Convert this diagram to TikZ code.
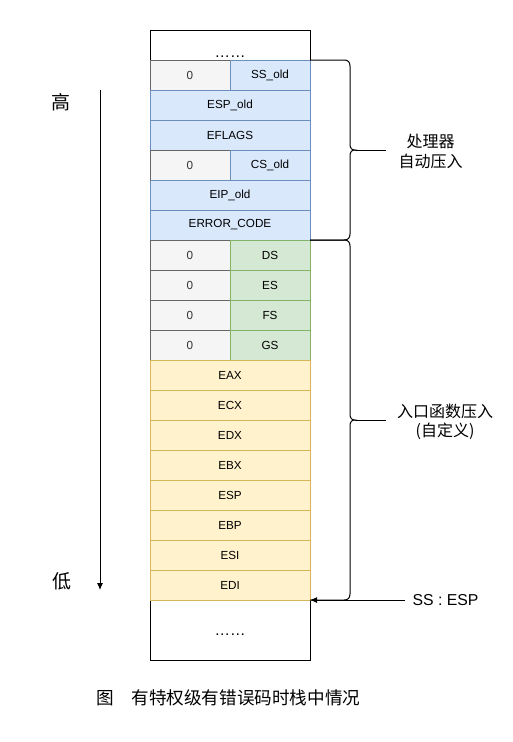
\documentclass[tikz,border=0pt]{standalone}
\usepackage{fontspec}
\setmainfont{Liberation Sans}
\newfontfamily\cjk{Noto Sans CJK SC}
\usetikzlibrary{arrows.meta}
\definecolor{grayF}{HTML}{F5F5F5}
\definecolor{grayD}{HTML}{666666}
\definecolor{grayT}{HTML}{333333}
\definecolor{blueF}{HTML}{DAE8FC}
\definecolor{blueD}{HTML}{6C8EBF}
\definecolor{greenF}{HTML}{D5E8D4}
\definecolor{greenD}{HTML}{82B366}
\definecolor{yelF}{HTML}{FFF2CC}
\definecolor{yelD}{HTML}{D6B656}
\begin{document}
\begin{tikzpicture}[x=1pt,y=-1pt,
  cell/.style={draw, line width=1pt, minimum height=30pt, inner sep=0pt, outer sep=0pt,
    font=\fontsize{11.7}{14}\selectfont},
  full/.style={cell, minimum width=160pt},
  half/.style={cell, minimum width=80pt},
  gc/.style={fill=grayF, draw=grayD, text=grayT},
  bc/.style={fill=blueF, draw=blueD},
  grc/.style={fill=greenF, draw=greenD},
  yc/.style={fill=yelF, draw=yelD},
  endbox/.style={draw=black, fill=white, line width=1pt, minimum width=160pt, inner sep=0pt,
    outer sep=0pt, font=\fontsize{15.5}{18}\selectfont},
  cjklab/.style={font=\cjk\fontsize{16}{19.5}\selectfont, align=center, inner sep=0pt},
  brace/.style={draw=black, line width=1pt},
  conn/.style={draw=black, line width=1pt, -{Latex[length=7pt,width=6pt]}}
]
\useasboundingbox (0,0) rectangle (512,742);

% top and bottom boxes
\node[endbox, minimum height=30pt, text height=25pt, text depth=0pt] (top) at (230,45) {……};
\node[endbox, minimum height=60pt, text height=10pt, text depth=0pt] (bot) at (230,630) {……};

% processor-pushed part
\node[half, gc] (z1) at (190,75) {0};
\node[half, bc] (ss) at (270,75) {SS\_old};
\node[full, bc] (esp0) at (230,105) {ESP\_old};
\node[full, bc] (efl) at (230,135) {EFLAGS};
\node[half, gc] (z2) at (190,165) {0};
\node[half, bc] (cs) at (270,165) {CS\_old};
\node[full, bc] (eip) at (230,195) {EIP\_old};
\node[full, bc] (err) at (230,225) {ERROR\_CODE};

% segment registers
\node[half, gc] (z3) at (190,255) {0};
\node[half, grc] (ds) at (270,255) {DS};
\node[half, gc] (z4) at (190,285) {0};
\node[half, grc] (es) at (270,285) {ES};
\node[half, gc] (z5) at (190,315) {0};
\node[half, grc] (fs) at (270,315) {FS};
\node[half, gc] (z6) at (190,345) {0};
\node[half, grc] (gs) at (270,345) {GS};

% general registers
\node[full, yc] (eax) at (230,375) {EAX};
\node[full, yc] (ecx) at (230,405) {ECX};
\node[full, yc] (edx) at (230,435) {EDX};
\node[full, yc] (ebx) at (230,465) {EBX};
\node[full, yc] (esp) at (230,495) {ESP};
\node[full, yc] (ebp) at (230,525) {EBP};
\node[full, yc] (esi) at (230,555) {ESI};
\node[full, yc] (edi) at (230,585) {EDI};

% braces
\path[brace] (310,60) -- (344,60) .. controls (348,60) and (350,62) .. (350,66)
  -- (350,144) .. controls (350,148) and (351.5,150) .. (355,150)
  .. controls (351.5,150) and (350,152) .. (350,156)
  -- (350,234) .. controls (350,238) and (348,240) .. (344,240) -- (310,240);
\coordinate (tip1) at (355,150);
\draw[line width=1pt] (tip1) -- ++(31,0);
\node[cjklab] (lab1) at (430.5,151.5) {处理器\\自动压入};

\path[brace] (310,240) -- (344,240) .. controls (348,240) and (350,242) .. (350,246)
  -- (350,414) .. controls (350,418) and (351.5,420) .. (355,420)
  .. controls (351.5,420) and (350,422) .. (350,426)
  -- (350,594) .. controls (350,598) and (348,600) .. (344,600) -- (310,600);
\coordinate (tip2) at (355,420);
\draw[line width=1pt] (tip2) -- ++(31,0);
\node[cjklab] (lab2) at (445,422) {入口函数压入\\(自定义)};

% SS:ESP pointer
\coordinate (sspt) at (405,600);
\node[font=\fontsize{15.8}{18}\selectfont, inner sep=0pt] (sslab) at (445.5,600) {SS : ESP};
\draw[conn] (sspt) -- (bot.north east);

% high-low arrow
\coordinate (hi) at (100,90);
\coordinate (lo) at (100,590);
\draw[conn] (hi) -- (lo);
\node[font=\cjk\fontsize{19}{21}\selectfont, inner sep=0pt] (gao) at (61,102) {高};
\node[font=\cjk\fontsize{19}{21}\selectfont, inner sep=0pt] (di) at (62,581) {低};

% caption
\node[font=\cjk\fontsize{17.6}{20}\selectfont, anchor=west, inner sep=0pt] (cap) at (96,698)
  {图　有特权级有错误码时栈中情况};
\end{tikzpicture}
\end{document}
